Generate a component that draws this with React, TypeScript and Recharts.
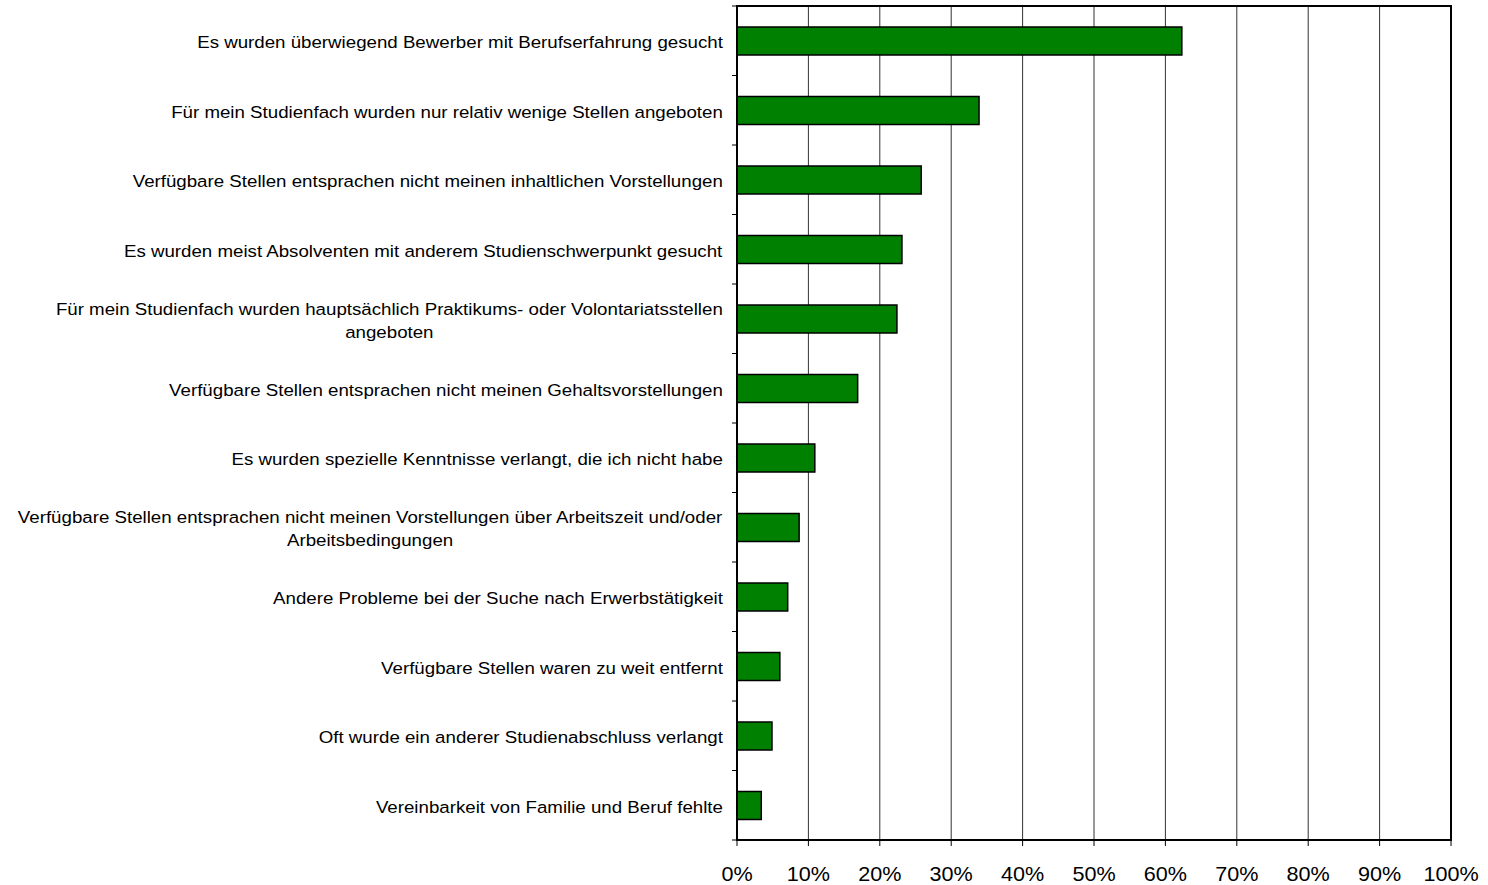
import React from 'react';
import {
  BarChart,
  Bar,
  XAxis,
  YAxis,
  CartesianGrid,
  ReferenceArea,
} from 'recharts';

// Gründe / Probleme bei der Stellensuche (Anteil in %)
const reasons = [
  'Es wurden überwiegend Bewerber mit Berufserfahrung gesucht',
  'Für mein Studienfach wurden nur relativ wenige Stellen angeboten',
  'Verfügbare Stellen entsprachen nicht meinen inhaltlichen Vorstellungen',
  'Es wurden meist Absolventen mit anderem Studienschwerpunkt gesucht',
  'Für mein Studienfach wurden hauptsächlich Praktikums- oder Volontariatsstellen angeboten',
  'Verfügbare Stellen entsprachen nicht meinen Gehaltsvorstellungen',
  'Es wurden spezielle Kenntnisse verlangt, die ich nicht habe',
  'Verfügbare Stellen entsprachen nicht meinen Vorstellungen über Arbeitszeit und/oder Arbeitsbedingungen',
  'Andere Probleme bei der Suche nach Erwerbstätigkeit',
  'Verfügbare Stellen waren zu weit entfernt',
  'Oft wurde ein anderer Studienabschluss verlangt',
  'Vereinbarkeit von Familie und Beruf fehlte',
];

const shares = [62.3, 33.9, 25.8, 23.1, 22.4, 16.9, 10.9, 8.7, 7.1, 6.0, 4.9, 3.4];

const xTicks = [0, 10, 20, 30, 40, 50, 60, 70, 80, 90, 100];

const data = reasons.map((name, i) => ({ name, value: shares[i] }));

const FONT = '"Liberation Sans", Arial, sans-serif';
const LABEL_SIZE = 17;
const STRETCH = 1.1; // Excel-Schrift wirkt etwas breiter
const WRAP_WIDTH = 722;

let ctx: CanvasRenderingContext2D | null = null;
const measure = (s: string) => {
  if (!ctx) ctx = document.createElement('canvas').getContext('2d');
  if (!ctx) return s.length * 8 * STRETCH;
  ctx.font = `${LABEL_SIZE}px ${FONT}`;
  return ctx.measureText(s).width * STRETCH;
};

const wrap = (text: string) => {
  const words = text.split(' ');
  const lines: string[] = [];
  let cur = '';
  words.forEach(w => {
    const next = cur ? cur + ' ' + w : w;
    if (cur && measure(next) > WRAP_WIDTH) {
      lines.push(cur);
      cur = w;
    } else {
      cur = next;
    }
  });
  if (cur) lines.push(cur);
  return lines;
};

const CategoryTick = ({ x, y, payload, index }: any) => {
  const lines = wrap(payload.value);
  const block = Math.max(...lines.map(measure));
  const axisX = x + 8;
  const cx = axisX - 14 - block / 2;
  const lh = 23;
  const band = 834 / reasons.length;
  const top = y + 2 - ((lines.length - 1) * lh) / 2;
  return (
    <g>
      <line x1={axisX - 5} x2={axisX} y1={y - band / 2} y2={y - band / 2} stroke="#000" />
      {index === reasons.length - 1 && (
        <line x1={axisX - 5} x2={axisX} y1={y + band / 2} y2={y + band / 2} stroke="#000" />
      )}
      <g transform={`translate(${cx},${top}) scale(${STRETCH},1)`}>
        <text
          x={0}
          y={0}
          textAnchor="middle"
          dominantBaseline="central"
          fontFamily={FONT}
          fontSize={LABEL_SIZE}
          fill="#000"
        >
          {lines.map((l, i) => (
            <tspan key={i} x={0} dy={i === 0 ? 0 : lh}>
              {l}
            </tspan>
          ))}
        </text>
      </g>
    </g>
  );
};

const PercentTick = ({ x, y, payload }: any) => (
  <g transform={`translate(${x},${y + 33}) scale(1.08,1)`}>
    <text x={0} y={0} textAnchor="middle" fontFamily={FONT} fontSize={20} fill="#000">
      {`${payload.value}%`}
    </text>
  </g>
);

const App: React.FC = () => {
  return (
    <div style={{ position: 'absolute', left: 0, top: 0, background: '#fff' }}>
      <BarChart
        width={1488}
        height={885}
        data={data}
        layout="vertical"
        margin={{ top: 6, right: 37, bottom: 0, left: 0 }}
        barCategoryGap="30%"
      >
        <CartesianGrid horizontal={false} stroke="#333" strokeWidth={1} />
        <XAxis
          type="number"
          domain={[0, 100]}
          ticks={xTicks}
          height={45}
          axisLine={{ stroke: '#000', strokeWidth: 2 }}
          tickLine={{ stroke: '#000' }}
          tickSize={6}
          tick={<PercentTick />}
          interval={0}
        />
        <YAxis
          type="category"
          dataKey="name"
          width={737}
          axisLine={{ stroke: '#000', strokeWidth: 2 }}
          tickLine={false}
          tick={<CategoryTick />}
          interval={0}
        />
        <ReferenceArea x1={0} x2={100} fill="none" stroke="#000" strokeWidth={2} ifOverflow="visible" />
        <Bar
          dataKey="value"
          fill="#008000"
          stroke="#000"
          strokeWidth={1.5}
          barSize={28}
          isAnimationActive={false}
        />
      </BarChart>
    </div>
  );
};

export default App;
